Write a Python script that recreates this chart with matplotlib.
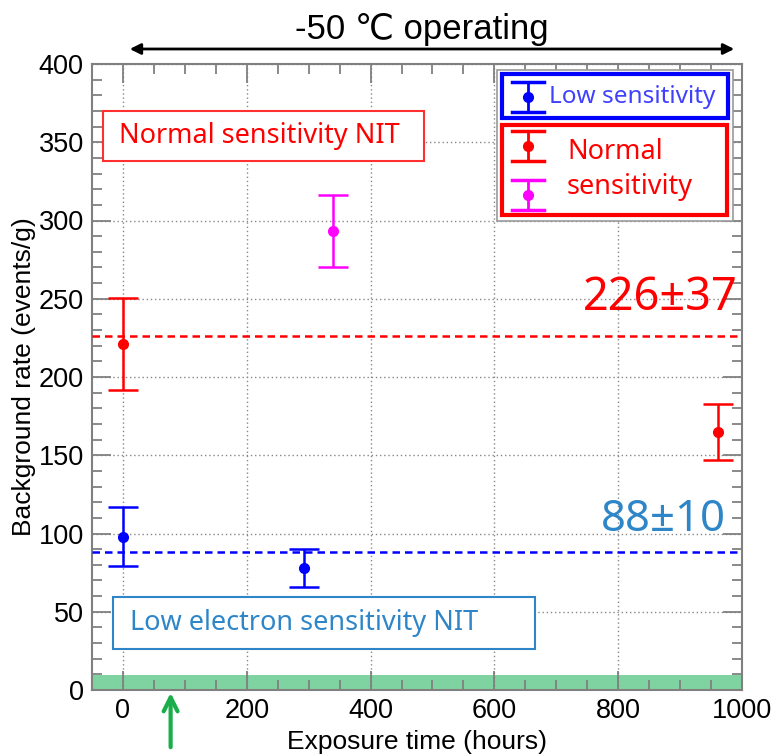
import matplotlib.pyplot as plt
import matplotlib.patches as patches
from matplotlib.lines import Line2D
from matplotlib.ticker import MultipleLocator

low_x = [0, 292]
low_y = [98, 78]
low_err = [19, 12]
normal_x = [0, 962]
normal_y = [221, 165]
normal_err = [29.5, 18]
magenta_x = [340]
magenta_y = [293]
magenta_err = [23]
normal_mean = 226
low_mean = 88
band_top = 9.5
arrow_x = 77

W, H = 779, 756
fig = plt.figure(figsize=(W / 100, H / 100), dpi=100)

def fx(x):
    return x / W

def fy(y):
    return 1 - y / H

ax = fig.add_axes([fx(92), fy(690), fx(742) - fx(92), fy(64) - fy(690)])
tick_font = ['Liberation Sans', 'DejaVu Sans']
slide_font = ['Noto Sans', 'DejaVu Sans']

ax.axhspan(0, band_top, color='#7fd3a1', zorder=1, lw=0)
ax.axhline(normal_mean, color='red', ls=(0, (3, 2)), lw=1.8, zorder=3)
ax.axhline(low_mean, color='blue', ls=(0, (3, 2)), lw=1.8, zorder=3)

ekw = dict(fmt='o', ms=7, capsize=11, capthick=1.8, elinewidth=1.8, zorder=4)
ax.errorbar(low_x, low_y, yerr=low_err, color='blue', **ekw)
ax.errorbar(normal_x, normal_y, yerr=normal_err, color='red', **ekw)
ax.errorbar(magenta_x, magenta_y, yerr=magenta_err, color='magenta', **ekw)

ax.set_xlim(-50, 1000)
ax.set_ylim(0, 400)
ax.xaxis.set_major_locator(MultipleLocator(200))
ax.xaxis.set_minor_locator(MultipleLocator(50))
ax.yaxis.set_major_locator(MultipleLocator(50))
ax.yaxis.set_minor_locator(MultipleLocator(10))
ax.grid(True, which='major', color='#888888', ls=(0, (1, 2)), lw=1, zorder=0)
ax.tick_params(which='both', direction='in', top=True, right=True, color='#808080', width=1.3)
ax.tick_params(which='major', length=14, labelsize=19.5, pad=6)
ax.tick_params(which='minor', length=7)
for lab in ax.get_xticklabels() + ax.get_yticklabels():
    lab.set_family(tick_font)
for s in ax.spines.values():
    s.set_color('#808080')
    s.set_linewidth(1.5)
ax.set_xlabel('Exposure time (hours)', fontsize=19, family=tick_font, labelpad=4)
ax.set_ylabel('Background rate (events/g)', fontsize=19, family=tick_font, labelpad=2)

# title and arrow above the plot
fig.text(fx(422), fy(30), '-50 \u2103 operating', fontsize=25, ha='center', va='center',
         family=['Liberation Sans', 'DejaVu Sans'])
fig.add_artist(patches.FancyArrowPatch((fx(127), fy(49)), (fx(737), fy(49)),
                                       transform=fig.transFigure, arrowstyle='<|-|>',
                                       mutation_scale=16, lw=2, color='black'))

# slide text boxes
def box(x0, y0, x1, y1, color, lw):
    fig.add_artist(patches.Rectangle((fx(x0), fy(y1)), fx(x1) - fx(x0), fy(y0) - fy(y1),
                                     transform=fig.transFigure, fill=True, fc='white',
                                     ec=color, lw=lw, zorder=5))

box(103, 111, 424, 161, '#ff3030', 1.5)
fig.text(fx(259), fy(136), 'Normal sensitivity NIT', color='red', fontsize=19.5,
         ha='center', va='center', family=slide_font, zorder=6)
box(113, 597, 535, 649, '#2e86c8', 1.5)
fig.text(fx(304), fy(623), 'Low electron sensitivity NIT', color='#2e86c8', fontsize=19.5,
         ha='center', va='center', family=slide_font, zorder=6)

fig.text(fx(738), fy(298), '226\u00b137', color='red', fontsize=32.5, ha='right',
         va='center', family=slide_font)
fig.text(fx(726), fy(520), '88\u00b110', color='#2e86c8', fontsize=31.5, ha='right',
         va='center', family=slide_font)

# legend panels
box(497, 70, 733, 221, '#999999', 1.2)
box(502, 74, 728, 118, 'blue', 3)
box(502, 125, 727, 215, 'red', 3)

def icon(x, y, color):
    half = 15
    cap = 16
    fig.add_artist(Line2D([fx(x), fx(x)], [fy(y - half), fy(y + half)], color=color,
                          lw=2, zorder=7))
    for yy in (y - half, y + half):
        fig.add_artist(Line2D([fx(x - cap), fx(x + cap)], [fy(yy), fy(yy)], color=color,
                              lw=2.5, zorder=7))
    fig.add_artist(Line2D([fx(x)], [fy(y)], marker='o', ms=7, color=color, zorder=7))

icon(528, 97, 'blue')
icon(528, 146, 'red')
icon(528, 195, 'magenta')
fig.text(fx(549), fy(97), 'Low sensitivity', color='#4040ff', fontsize=17.5,
         ha='left', va='center', family=slide_font, zorder=8)
fig.text(fx(567), fy(152), 'Normal', color='red', fontsize=19.5,
         ha='left', va='center', family=slide_font, zorder=8)
fig.text(fx(567), fy(187), 'sensitivity', color='red', fontsize=19.5,
         ha='left', va='center', family=slide_font, zorder=8)

# green arrow below the axis
ax.annotate('', xy=(arrow_x, 0), xycoords=('data', 'axes fraction'),
            xytext=(0, -60), textcoords='offset pixels',
            arrowprops=dict(arrowstyle='->', color='#1aae4a', lw=3, mutation_scale=25),
            annotation_clip=False)

fig.savefig('out.png', dpi=100)
